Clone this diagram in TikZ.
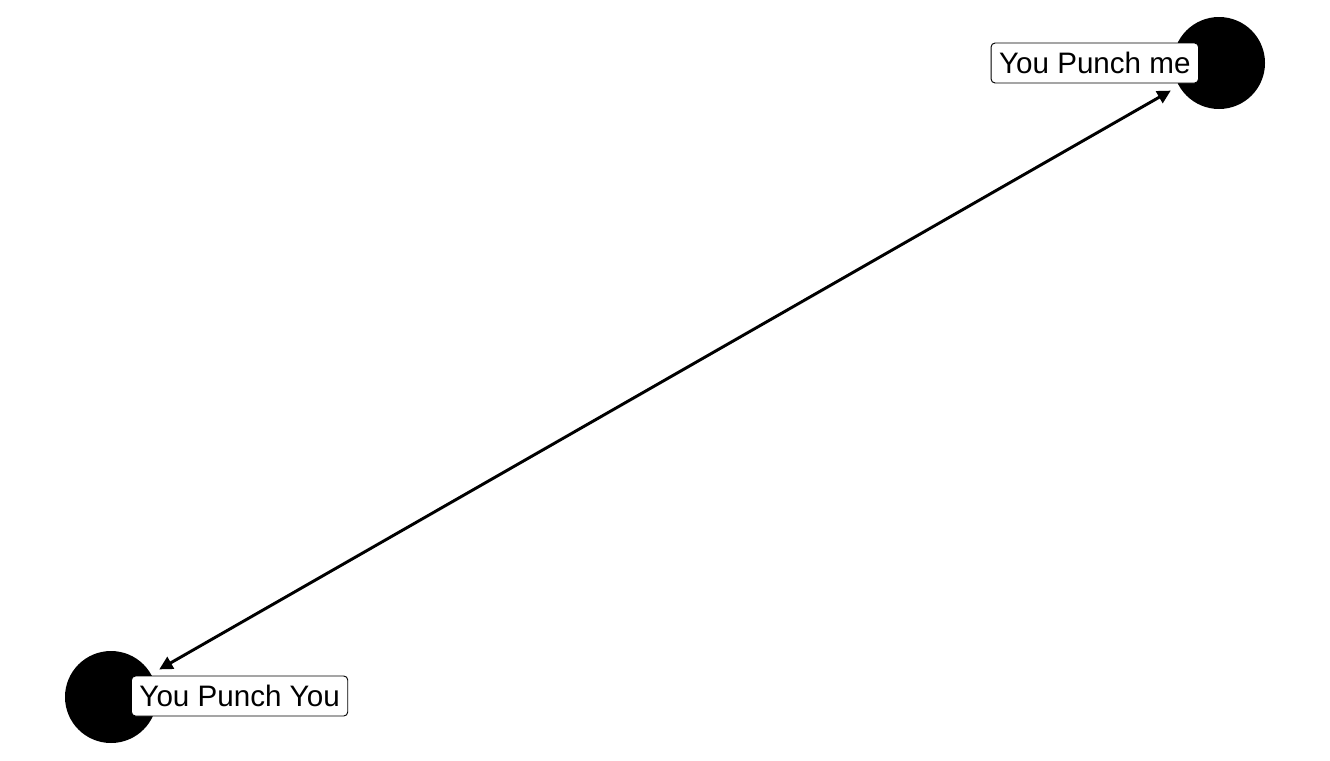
\documentclass[tikz,border=0pt]{standalone}
\usepackage{fontspec}
\setmainfont{Liberation Sans}
\usetikzlibrary{arrows.meta}

\begin{document}
\begin{tikzpicture}
    [x=0.75pt, y=-0.75pt,
    dot/.style={circle, fill=black, minimum size=69pt, inner sep=0pt},
    lbl/.style={rectangle, rounded corners=3pt, draw, fill=white, line width=0.7pt,
        font=\fontsize{22.2}{26}\selectfont, inner xsep=6pt, inner ysep=0pt, minimum height=30pt},
    link/.style={line width=2.2pt, {Triangle[length=10pt,width=10pt]}-{Triangle[length=10pt,width=10pt]},
        shorten >=7pt, shorten <=7pt}]
    \useasboundingbox (0,0) rectangle (1330,760);
    \node[dot] (me) at (1219,63) {};
    \node[dot] (you) at (111,697) {};
    \draw[link] (you) -- (me);
    \node[lbl, anchor=east] (meLbl) at (1199,63) {You Punch me};
    \node[lbl, anchor=west] (youLbl) at (131,696) {You Punch You};
\end{tikzpicture}
\end{document}
